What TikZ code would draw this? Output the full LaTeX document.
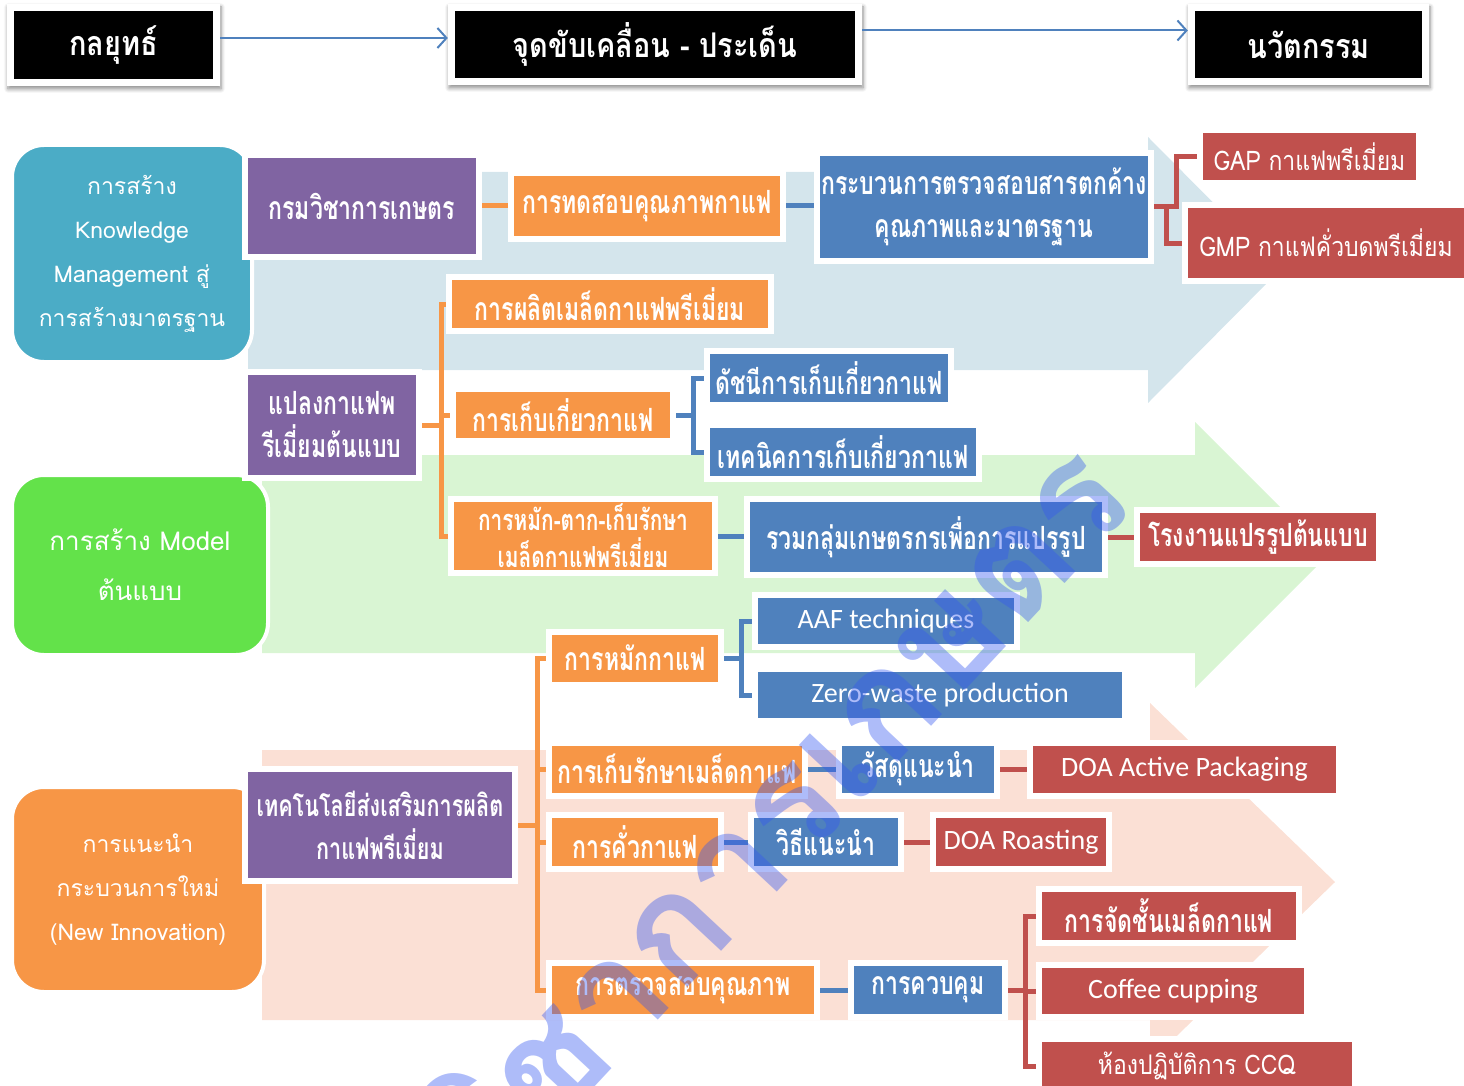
\documentclass[tikz,border=0pt]{standalone}
\usepackage{fontspec}
\newfontfamily\thaifont[Script=Thai]{Loma}
\newfontfamily\thaicond[Script=Thai,FakeStretch=0.72]{Loma}
\newfontfamily\thaihead[Script=Thai,FakeStretch=0.85]{Loma}
\newfontfamily\calfont{Carlito}
\usetikzlibrary{positioning,shadows,shadows.blur,arrows.meta}

\definecolor{kmteal}{HTML}{4BACC6}
\definecolor{modelgreen}{HTML}{63E24A}
\definecolor{innoorange}{HTML}{F79646}
\definecolor{deptpurple}{HTML}{8064A2}
\definecolor{stepblue}{HTML}{4F81BD}
\definecolor{goalred}{HTML}{C0504D}
\definecolor{bandblue}{HTML}{D4E5EC}
\definecolor{bandgreen}{HTML}{D9F5D3}
\definecolor{bandsalmon}{HTML}{FBE0D5}
\definecolor{markblue}{HTML}{3558F0}

\newcommand{\boxfont}{\thaicond\bfseries\fontsize{32}{43}\selectfont}
\newcommand{\mixfont}{\thaihead\fontsize{27}{43}\selectfont}
\newcommand{\latfont}{\calfont\fontsize{28}{32}\selectfont}

\tikzset{
  headbox/.style={fill=white, text=white,
    font=\thaihead\bfseries\fontsize{34}{38}\selectfont,
    blur shadow={shadow blur steps=6, shadow xshift=1pt, shadow yshift=-3pt,
      shadow blur radius=4pt, shadow opacity=45},
    path picture={\fill[black] ([shift={(7pt,7pt)}]path picture bounding box.south west)
      rectangle ([shift={(-7pt,-7pt)}]path picture bounding box.north east);}},
  roundbox/.style={draw=white, line width=4pt, rounded corners=32pt,
    text=white, align=center, font=\thaifont\fontsize{23}{44}\selectfont},
  tbox/.style={draw=white, line width=6pt, text=white, align=center,
    inner sep=1pt, font=\boxfont},
  purplebox/.style={tbox, fill=deptpurple},
  orangebox/.style={tbox, fill=innoorange},
  bluebox/.style={tbox, fill=stepblue},
  redbox/.style={tbox, fill=goalred},
  oline/.style={draw=innoorange, line width=5pt},
  bline/.style={draw=stepblue, line width=5pt},
  rline/.style={draw=goalred, line width=5pt},
  headarrow/.style={draw=stepblue, line width=2pt,
    -{Straight Barb[length=9pt,width=20pt,line width=2pt]}}
}

\begin{document}
\begin{tikzpicture}[x=1pt,y=-1pt]
\useasboundingbox (0,0) rectangle (1464,1086);

% background arrows
\fill[bandblue] (248,172) -- (1148,172) -- (1148,137) -- (1280,270)
  -- (1148,403) -- (1148,370) -- (248,370) -- cycle;
\fill[bandgreen] (262,455) -- (1195,455) -- (1195,422) -- (1328,555)
  -- (1195,688) -- (1195,653) -- (262,653) -- cycle;
\fill[bandsalmon] (262,750) -- (1150,750) -- (1150,703) -- (1335,882)
  -- (1150,1062) -- (1150,1020) -- (262,1020) -- cycle;

% header
\node[headbox, minimum width=213pt, minimum height=82pt] (h1) at (113.5,45) {กลยุทธ์};
\node[headbox, minimum width=414pt, minimum height=81pt] (h2) at (655,44.5) {จุดขับเคลื่อน - ประเด็น};
\node[headbox, minimum width=241pt, minimum height=81pt] (h3) at (1308.5,44.5) {นวัตกรรม};

\draw[headarrow] ([yshift=7pt]h1.east) -- ([yshift=7pt]h1.east -| h2.west);
\draw[headarrow] ([yshift=14pt]h2.east) -- ([yshift=14pt]h2.east -| h3.west);

% strategies
\node[roundbox, fill=kmteal, minimum width=240pt, minimum height=217pt] (r1) at (132,253.5)
  {การสร้าง\\Knowledge\\Management สู่\\การสร้างมาตรฐาน};
\node[roundbox, fill=modelgreen, minimum width=256pt, minimum height=180pt, font=\thaifont\fontsize{26}{50}\selectfont] (r2) at (140,565)
  {การสร้าง Model\\ต้นแบบ};
\node[roundbox, fill=innoorange, minimum width=252pt, minimum height=205pt] (r3) at (138,889.5)
  {การแนะนำ\\กระบวนการใหม่\\(New Innovation)};

% first level
\node[purplebox, minimum width=234pt, minimum height=102pt] (p1) at (362,206) {กรมวิชาการเกษตร};
\node[purplebox, minimum width=174pt, minimum height=106pt] (p2) at (332,425) {แปลงกาแฟพ\\รีเมี่ยมต้นแบบ};
\node[purplebox, minimum width=270pt, minimum height=112pt, font=\thaicond\bfseries\fontsize{30}{43}\selectfont] (p3) at (380,825) {เทคโนโลยีส่งเสริมการผลิต\\กาแฟพรีเมี่ยม};

% second level
\node[orangebox, minimum width=272pt, minimum height=66pt] (o1) at (647,206) {การทดสอบคุณภาพกาแฟ};
\node[orangebox, minimum width=322pt, minimum height=54pt] (o2) at (610,304) {การผลิตเมล็ดกาแฟพรีเมี่ยม};
\node[orangebox, minimum width=220pt, minimum height=52pt] (o3) at (563,415) {การเก็บเกี่ยวกาแฟ};
\node[orangebox, minimum width=264pt, minimum height=74pt, font=\thaicond\bfseries\fontsize{29}{37}\selectfont] (o4) at (583,536) {การหมัก-ตาก-เก็บรักษา\\เมล็ดกาแฟพรีเมี่ยม};
\node[orangebox, minimum width=172pt, minimum height=53pt] (o5) at (635,658) {การหมักกาแฟ};
\node[orangebox, minimum width=256pt, minimum height=53pt] (o6) at (677,769) {การเก็บรักษาเมล็ดกาแฟ};
\node[orangebox, minimum width=172pt, minimum height=54pt] (o7) at (635,842) {การคั่วกาแฟ};
\node[orangebox, minimum width=268pt, minimum height=54pt] (o8) at (683,990) {การตรวจสอบคุณภาพ};

% third level
\node[bluebox, minimum width=334pt, minimum height=108pt] (b1) at (984,207) {กระบวนการตรวจสอบสารตกค้าง\\คุณภาพและมาตรฐาน};
\node[bluebox, minimum width=244pt, minimum height=54pt] (b2) at (829,378) {ดัชนีการเก็บเกี่ยวกาแฟ};
\node[bluebox, minimum width=272pt, minimum height=54pt] (b3) at (843,452) {เทคนิคการเก็บเกี่ยวกาแฟ};
\node[bluebox, minimum width=358pt, minimum height=76pt] (b4) at (926,537) {รวมกลุ่มเกษตรกรเพื่อการแปรรูป};
\node[bluebox, minimum width=262pt, minimum height=52pt, font=\latfont] (b5) at (886,621) {AAF techniques};
\node[bluebox, minimum width=370pt, minimum height=52pt, font=\latfont] (b6) at (940,695) {Zero-waste production};
\node[bluebox, minimum width=158pt, minimum height=53pt] (b7) at (918,769) {วัสดุแนะนำ};
\node[bluebox, minimum width=150pt, minimum height=54pt] (b8) at (826,842) {วิธีแนะนำ};
\node[bluebox, minimum width=154pt, minimum height=54pt] (b9) at (928,990) {การควบคุม};

% innovations
\node[redbox, minimum width=219pt, minimum height=53pt, font=\mixfont] (g1) at (1309.5,156.5) {GAP กาแฟพรีเมี่ยม};
\node[redbox, minimum width=282pt, minimum height=76pt, font=\mixfont] (g2) at (1326,243) {GMP กาแฟคั่วบดพรีเมี่ยม};
\node[redbox, minimum width=242pt, minimum height=54pt] (g3) at (1258,537) {โรงงานแปรรูปต้นแบบ};
\node[redbox, minimum width=309pt, minimum height=53pt, font=\latfont] (g4) at (1184.5,769.5) {DOA Active Packaging};
\node[redbox, minimum width=176pt, minimum height=54pt, font=\latfont] (g5) at (1021,842) {DOA Roasting};
\node[redbox, minimum width=260pt, minimum height=54pt] (g6) at (1169,916) {การจัดชั้นเมล็ดกาแฟ};
\node[redbox, minimum width=268pt, minimum height=52pt, font=\latfont] (g7) at (1173,991) {Coffee cupping};
\node[redbox, minimum width=316pt, minimum height=54pt, font=\mixfont] (g8) at (1197,1066) {ห้องปฏิบัติการ CCQ};

% connectors
\draw[oline] (p1.east) -- (p1.east -| o1.west);
\draw[bline] (o1.east) -- (o1.east -| b1.west);
\draw[rline] (b1.east) -- ++(22,0) |- (g1.west);
\draw[rline] (b1.east) -- ++(12,0) |- (g2.west);

\foreach \c in {o2,o3,o4}
  \draw[oline] (p2.east) -- ++(19,0) |- (\c.west);
\foreach \c in {b2,b3}
  \draw[bline] (o3.east) -- ++(17,0) |- (\c.west);
\draw[bline] (o4.east) -- (o4.east -| b4.west);
\draw[rline] (b4.east) -- (b4.east -| g3.west);

\foreach \c in {o5,o6,o7,o8}
  \draw[oline] (p3.east) -- ++(19,0) |- (\c.west);
\foreach \c in {b5,b6}
  \draw[bline] (o5.east) -- ++(17,0) |- (\c.west);
\draw[bline] (o6.east) -- (o6.east -| b7.west);
\draw[rline] (b7.east) -- (b7.east -| g4.west);
\draw[bline] (o7.east) -- (o7.east -| b8.west);
\draw[rline] (b8.east) -- (b8.east -| g5.west);
\draw[bline] (o8.east) -- (o8.east -| b9.west);
\foreach \c in {g6,g7,g8}
  \draw[rline] (b9.east) -- ++(17,0) |- (\c.west);

% watermark
\node[rotate=47, opacity=0.4, text=markblue, font=\thaifont\bfseries\fontsize{150}{150}\selectfont] (mark) at (772,808) {วิชาการเกษตร};

\end{tikzpicture}
\end{document}
